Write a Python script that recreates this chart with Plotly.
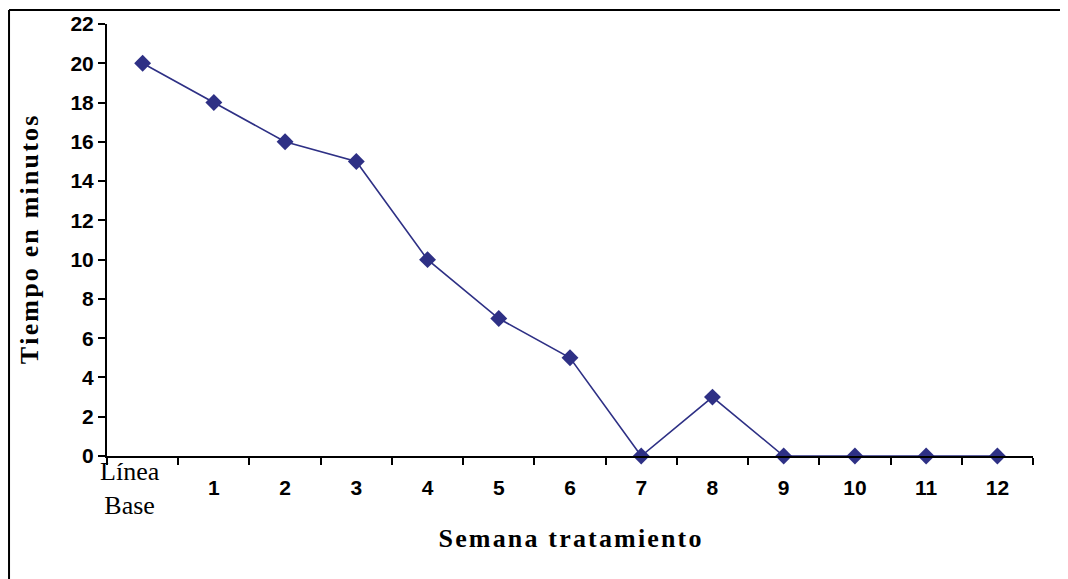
import plotly.graph_objects as go

categories = ["Línea Base", "1", "2", "3", "4", "5", "6", "7", "8", "9", "10", "11", "12"]
number_labels = ["", "1", "2", "3", "4", "5", "6", "7", "8", "9", "10", "11", "12"]
base_label = "Línea<br>Base"
minutes = [20, 18, 16, 15, 10, 7, 5, 0, 3, 0, 0, 0, 0]
y_ticks = list(range(0, 23, 2))

navy = "#2E3085"
hs = "\u200a"
x_title = hs.join("Semana tratamiento")
y_title = hs.join("Tiempo en minutos")

fig = go.Figure()
fig.add_trace(go.Scatter(
    x=categories, y=minutes, mode="lines+markers",
    line=dict(color=navy, width=1.6),
    marker=dict(symbol="diamond", size=13, color=navy),
    cliponaxis=False, showlegend=False,
))

fig.update_layout(
    width=1060, height=571,
    margin=dict(l=99, r=35, t=16, b=123),
    paper_bgcolor="white", plot_bgcolor="white",
    font=dict(family="Liberation Sans", color="black"),
    xaxis=dict(
        type="category", categoryorder="array", categoryarray=categories,
        tickmode="array", tickvals=categories, ticktext=number_labels,
        tickson="boundaries", ticks="outside", ticklen=7, tickwidth=2, tickcolor="black",
        showline=True, linecolor="black", linewidth=2,
        showgrid=False, zeroline=False, automargin=False,
        tickfont=dict(family="Liberation Sans", size=21, weight="bold", color="black"),
        ticklabelstandoff=12,
        range=[-0.5, 12.5],
        title=dict(text=x_title,
                   font=dict(family="Liberation Serif", size=26, weight="bold", color="black"),
                   standoff=31),
    ),
    xaxis2=dict(
        overlaying="x", side="bottom", range=[-0.5, 12.5],
        tickmode="array", tickvals=[0], ticktext=[base_label],
        ticks="", showline=False, showgrid=False, zeroline=False, automargin=False,
        tickfont=dict(family="Liberation Serif", size=26, color="black"),
        ticklabelshift=-13, ticklabelstandoff=-3,
    ),
    yaxis=dict(
        range=[0, 22], tickvals=y_ticks,
        ticks="outside", ticklen=7, tickwidth=2, tickcolor="black",
        showline=True, linecolor="black", linewidth=2,
        showgrid=False, zeroline=False, automargin=False,
        tickfont=dict(family="Liberation Sans", size=21, weight="bold", color="black"),
        title=dict(text=y_title,
                   font=dict(family="Liberation Serif", size=26, weight="bold", color="black"),
                   standoff=24),
    ),
    shapes=[
        dict(type="line", xref="paper", yref="paper", x0=-0.1058, x1=1.06, y0=1.0324, y1=1.0324,
             line=dict(color="black", width=2)),
        dict(type="line", xref="paper", yref="paper", x0=-0.1058, x1=-0.1058, y0=1.0324, y1=-0.3,
             line=dict(color="black", width=2)),
    ],
)
# invisible helper trace so xaxis2 is rendered
fig.add_trace(go.Scatter(x=[0], y=[None], xaxis="x2", yaxis="y", mode="markers",
                         showlegend=False, hoverinfo="skip"))

fig.write_html("out.html")
